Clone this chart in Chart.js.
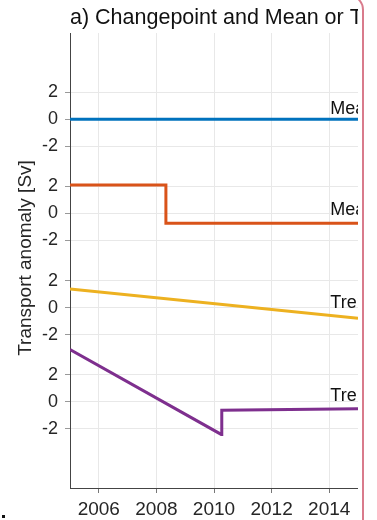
<!DOCTYPE html>
<html>
<head>
<meta charset="utf-8">
<script src="https://cdn.jsdelivr.net/npm/chart.js@4/dist/chart.umd.min.js"></script>
<style>
html,body{margin:0;padding:0;background:#fff;width:377px;height:520px;overflow:hidden;position:relative;}
#c{position:absolute;left:0;top:0;}
#frame{position:absolute;left:-10px;top:-6px;width:374px;height:560px;border-right:2px solid #d97b8c;border-top:2px solid #d97b8c;border-top-right-radius:16px;box-sizing:border-box;pointer-events:none;}
#dot{position:absolute;left:2px;top:515px;width:3px;height:3px;background:#111;}
</style>
</head>
<body>
<canvas id="c" width="358" height="520"></canvas>
<div id="frame"></div>
<div id="dot"></div>
<script>
// ---- data ----
const meanX = [2005, 2015];
const meanY = [0, 0];
const cpMeanX = [2005, 2008.33, 2008.33, 2015];
const cpMeanY = [2.1, 2.1, -0.74, -0.74];
const trendX = [2005, 2015];
const trendY = [1.39, -0.79];
const cpTrendX = [2005, 2010.25, 2010.27, 2015];
const cpTrendY = [3.88, -2.42, -0.63, -0.52];
const groupOffsets = [0, -7, -14, -21];
const seriesNames = ["Mean", "Mean", "Trend", "Trend"];
const seriesColors = ["#0072BD", "#D95319", "#EDB120", "#7E2F8E"];
const xTicks = [2006, 2008, 2010, 2012, 2014];
const yTickRel = [2, 0, -2];
const yTickLabels = ["2", "0", "-2"];
const titleText = "a) Changepoint and Mean or Trend Models";
const yTitle = "Transport anomaly [Sv]";
// label anchors (relative to group zero)
const labelRelY = [0.37, -0.13, 0.0, 0.06];
const labelXVal = 2014.04;

const FONT = '"Liberation Sans", Arial, Helvetica, sans-serif';
const seriesX = [meanX, cpMeanX, trendX, cpTrendX];
const seriesY = [meanY, cpMeanY, trendY, cpTrendY];

const datasets = seriesX.map((xs, i) => ({
  label: seriesNames[i],
  data: xs.map((x, j) => ({x: x, y: seriesY[i][j] + groupOffsets[i]})),
  borderColor: seriesColors[i],
  backgroundColor: seriesColors[i],
  borderWidth: 3,
  pointRadius: 0,
  tension: 0,
  fill: false
}));

const yTickValues = [];
const yTickText = [];
groupOffsets.forEach(o => yTickRel.forEach((r, k) => { yTickValues.push(o + r); yTickText.push(yTickLabels[k]); }));

const textPlugin = {
  id: 'texts',
  afterDatasetsDraw(chart) {
    const ctx = chart.ctx, xs = chart.scales.x, ys = chart.scales.y;
    ctx.save();
    ctx.fillStyle = '#111';
    ctx.font = '18px ' + FONT;
    ctx.textAlign = 'left';
    ctx.textBaseline = 'alphabetic';
    groupOffsets.forEach((o, i) => {
      ctx.fillText(seriesNames[i], xs.getPixelForValue(labelXVal), ys.getPixelForValue(o + labelRelY[i]));
    });
    ctx.restore();
  },
  afterDraw(chart) {
    const ctx = chart.ctx;
    ctx.save();
    ctx.fillStyle = '#111';
    ctx.font = '21.5px ' + FONT;
    ctx.textAlign = 'left';
    ctx.textBaseline = 'alphabetic';
    ctx.fillText(titleText, 70, 24);
    ctx.translate(26, 258);
    ctx.rotate(-Math.PI / 2);
    ctx.font = '19px ' + FONT;
    ctx.fillStyle = '#262626';
    ctx.textAlign = 'center';
    ctx.textBaseline = 'middle';
    ctx.fillText(yTitle, 0, 0);
    ctx.restore();
  }
};

new Chart(document.getElementById('c'), {
  type: 'line',
  data: {datasets: datasets},
  options: {
    responsive: false,
    animation: false,
    devicePixelRatio: 1,
    layout: {padding: {top: 33, right: 0, left: 0, bottom: 0}},
    plugins: {legend: {display: false}, tooltip: {enabled: false}, title: {display: false}},
    scales: {
      x: {
        type: 'linear', min: 2005, max: 2015,
        afterBuildTicks: s => { s.ticks = xTicks.map(v => ({value: v})); },
        afterFit: s => { s.height = 32; },
        ticks: {color: '#262626', font: {size: 19, family: FONT}, padding: 5, maxRotation: 0, autoSkip: false, callback: v => String(v)},
        grid: {color: '#e8e8e8', lineWidth: 1, tickLength: 5, tickColor: '#777'},
        border: {display: true, color: '#444', width: 1}
      },
      y: {
        type: 'linear', min: -27.4, max: 6.4,
        afterBuildTicks: s => { s.ticks = yTickValues.map(v => ({value: v})); },
        afterFit: s => { s.width = 70; },
        ticks: {color: '#262626', font: {size: 18, family: FONT}, padding: 7, autoSkip: false,
          callback: (v, i) => yTickText[i]},
        grid: {color: '#e8e8e8', lineWidth: 1, tickLength: 5, tickColor: '#999'},
        border: {display: true, color: '#444', width: 1}
      }
    }
  },
  plugins: [textPlugin]
});
</script>
</body>
</html>
